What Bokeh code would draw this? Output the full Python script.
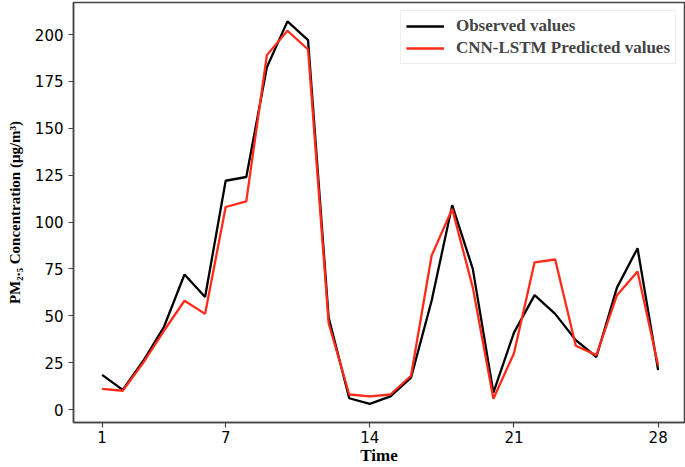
from bokeh.plotting import figure
from bokeh.models import Range1d, FixedTicker, Legend, LegendItem
from bokeh.embed import file_html
from bokeh.resources import INLINE

time = list(range(1, 29))
observed = [18.5, 10.5, 26, 44, 72, 60, 122, 124, 182.5, 207, 197, 49, 6, 3, 7, 17,
            58, 109, 75, 9, 41, 61, 51, 37, 28, 65, 86, 21]
predicted = [11, 10, 25, 42, 58, 51, 108, 111, 189, 202, 192, 46, 8, 7, 8, 18,
             82, 107, 65, 5.7, 30, 78.5, 80, 34, 29, 61, 73.6, 23.5]
x_ticks = [1, 7, 14, 21, 28]
y_ticks = [0, 25, 50, 75, 100, 125, 150, 175, 200]

p = figure(width=685, height=467, output_backend="svg", toolbar_location=None,
           x_range=Range1d(-0.39, 29.28), y_range=Range1d(-6.93, 217.07),
           min_border_left=73, min_border_right=1, min_border_top=2, min_border_bottom=45)
p.grid.visible = False
p.outline_line_color = "#444444"
p.outline_line_width = 1.5

r1 = p.line(time, observed, line_color="black", line_width=2.3)
r2 = p.line(time, predicted, line_color="#ff2a1a", line_width=2.3)

for ax in (p.xaxis[0], p.yaxis[0]):
    ax.major_label_text_font = "DejaVu Sans"
    ax.major_label_text_font_size = "15px"
    ax.major_label_text_color = "black"
    ax.axis_line_color = "#444444"
    ax.axis_line_width = 1.5
    ax.major_tick_line_color = "#444444"
    ax.major_tick_line_width = 1.2
    ax.major_tick_out = 5
    ax.major_tick_in = 0
    ax.minor_tick_line_color = None
    ax.axis_label_text_font = "Liberation Serif"
    ax.axis_label_text_font_style = "bold"
    ax.axis_label_text_color = "black"

p.xaxis[0].ticker = FixedTicker(ticks=x_ticks)
p.yaxis[0].ticker = FixedTicker(ticks=y_ticks)
p.xaxis[0].major_label_standoff = 3
p.xaxis[0].axis_label = "Time"
p.xaxis[0].axis_label_text_font_size = "17px"
p.xaxis[0].axis_label_standoff = 0
p.yaxis[0].axis_label = "PM\u2082.\u2085 Concentration (\u03bcg/m\u00b3)"
p.yaxis[0].axis_label_text_font_size = "15px"
p.yaxis[0].axis_label_standoff = 9

legend = Legend(items=[LegendItem(label="Observed values", renderers=[r1]),
                       LegendItem(label="CNN-LSTM Predicted values", renderers=[r2])],
                location="top_right")
legend.label_text_font = "Liberation Serif"
legend.label_text_font_style = "bold"
legend.label_text_font_size = "17px"
legend.label_height = 20
legend.glyph_height = 20
legend.glyph_width = 38
legend.label_standoff = 12
legend.spacing = 2
legend.padding = 5
legend.margin = 8
legend.border_line_color = "#dddddd"
legend.border_line_width = 1
legend.background_fill_alpha = 0.9
p.add_layout(legend)

open("out.html", "w").write(file_html(p, INLINE))
